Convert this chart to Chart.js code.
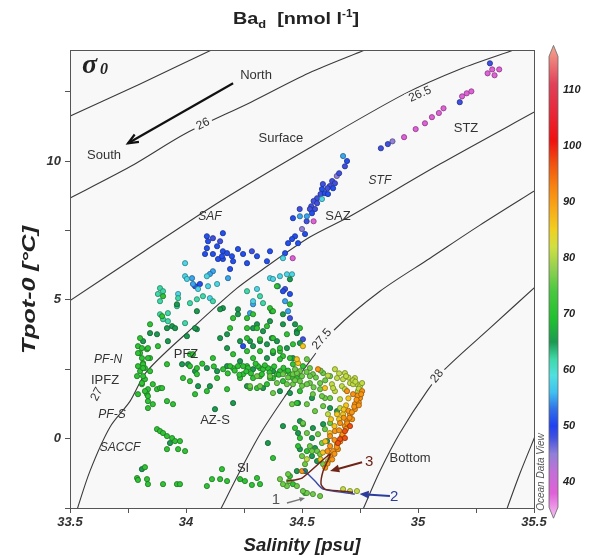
<!DOCTYPE html>
<html>
<head>
<meta charset="utf-8">
<script src="https://cdn.jsdelivr.net/npm/chart.js@4.4.0/dist/chart.umd.min.js"></script>
<style>
  html, body { margin: 0; padding: 0; background: #fff; }
  canvas { display: block; }
</style>
</head>
<body>
<canvas id="ts" width="592" height="558"></canvas>
<script>
// tick labels
const xTicks = [33.5, 34, 34.5, 35, 35.5];
const yTicks = [0, 5, 10];
const barTicks = [40, 50, 60, 70, 80, 90, 100, 110];

// sigma0 isopycnals, [salinity, tpot]
const iso255 = [[33.48,11.54],[33.80,12.77],[34.12,14.04]];
const iso26 = [[33.48,8.58],[33.76,9.80],[34.00,11.00],[34.28,12.12],[34.53,13.17],[34.78,14.03]];
const iso265 = [[33.48,4.86],[33.82,6.75],[34.15,8.56],[34.53,10.46],[34.94,12.41],[35.18,13.31],[35.42,14.02]];
const iso27 = [[33.525,-2.7],[33.586,-1.17],[33.672,0.41],[33.759,1.35],[33.832,2.43],[34.06,4.23],[34.22,5.42],[34.319,6.03],[34.534,7.26],[34.707,8.01],[35.095,9.89],[35.52,11.85]];
const iso275 = [[34.14,-2.7],[34.233,-1.17],[34.319,0.16],[34.427,1.53],[34.534,2.79],[34.642,3.94],[34.836,5.31],[35.052,6.50],[35.267,7.69],[35.52,9.02]];
const iso28 = [[34.755,-2.7],[34.836,-1.17],[34.922,0.20],[35.039,1.71],[35.116,2.50],[35.31,3.98],[35.51,5.50]];
const iso285 = [[35.376,-2.7],[35.44,-1.24],[35.51,0.2]];
const isoLabels = [['26',34.073,11.33,-26],['26.5',35.009,12.41,-24],['27',33.616,1.60,-62],['27.5',34.586,3.58,-50],['28',35.082,2.25,-52]];

// water mass paths drawn on the figure
const path3 = [[34.435,-1.53],[34.50,-1.42],[34.621,-0.56],[34.591,-1.17],[34.582,-1.64],[34.599,-1.82],[34.664,-1.89],[34.72,-1.93]];
const path2 = [[34.504,-1.10],[34.556,-1.53],[34.591,-1.82],[34.728,-2.00]];

// Ba_d samples grouped by value (nmol/l), [salinity, tpot]
const ba38 = [[34.94,10.86],[34.99,11.15],[35.03,11.36],[35.06,11.58],[35.09,11.73],[35.11,11.90],[35.19,12.33],[35.21,12.44],[35.23,12.51],[35.30,13.16],[35.32,13.30],[35.35,13.30],[35.33,13.09],[34.55,7.83],[34.46,6.50]];
const ba45 = [[34.89,10.71],[34.50,7.55],[34.65,9.46]];
const ba48 = [[34.84,10.46],[34.87,10.61],[35.18,12.12],[35.31,13.52],[34.66,9.56],[34.63,9.28],[34.62,9.10],[34.61,9.02],[34.59,9.17],[34.58,8.81],[34.565,8.66],[34.55,8.56],[34.565,8.48],[34.54,8.37],[34.556,8.27],[34.534,8.27],[34.49,8.27],[34.52,7.83],[34.448,4.34],[34.427,5.39],[34.284,6.75],[34.147,7.11],[34.116,7.22],[34.504,3.58],[34.685,9.81],[34.642,9.20]];
const ba51 = [[34.694,10.0],[34.634,9.02],[34.599,8.84],[34.612,8.81],[34.586,8.99],[34.543,8.12],[34.461,7.94],[34.513,7.37],[34.47,7.29],[34.457,7.19],[34.44,7.04],[34.483,7.04],[34.427,6.68],[34.362,6.75],[34.09,7.29],[34.159,7.40],[34.095,7.11],[34.134,6.93],[34.09,6.86],[34.159,6.75],[34.082,6.65],[34.116,6.65],[34.177,6.68],[34.138,6.47],[34.159,6.47],[34.155,6.57],[34.198,6.57],[34.203,6.39],[34.224,6.83],[34.246,6.65],[34.306,6.57],[34.263,6.32],[34.349,6.39],[34.19,6.11],[34.039,5.49],[34.06,5.57],[34.418,5.31],[34.448,5.21],[34.246,3.33]];
const ba55 = [[34.677,10.18],[34.491,8.01],[34.521,8.01],[34.116,6.03],[34.103,5.93],[34.181,5.78],[34.03,5.57],[34.026,5.78],[34.276,4.52],[34.289,4.84],[34.396,5.49],[34.427,4.95],[34.44,4.59]];
const ba58 = [[34.586,8.63],[34.418,6.50],[33.996,6.32],[33.996,5.85],[34.09,5.85],[34.134,5.57],[34.103,5.06],[33.966,5.21],[34.362,5.78],[34.435,5.92],[34.457,5.92],[34.289,4.95],[34.306,5.39],[34.052,5.39],[34.004,5.75],[34.095,5.49],[34.405,5.85],[34.375,5.75]];
const ba62 = [[33.888,5.42],[33.901,5.31],[33.879,5.21],[33.888,4.95],[33.966,5.06],[33.961,4.77],[33.888,4.48],[33.922,4.52],[33.901,4.30],[34.116,4.95],[34.073,5.13],[34.047,5.02],[34.017,4.88],[34.263,5.31],[34.319,5.13],[34.332,4.88],[33.922,4.23],[33.996,4.16]];
const ba65 = [[33.875,3.76],[33.845,3.80],[33.94,4.05],[33.918,3.98],[33.953,3.98],[33.815,3.51],[33.961,4.84],[34.047,3.94],[34.004,3.69],[33.922,3.51],[34.224,4.66],[34.159,4.70],[34.224,4.48],[34.177,3.76],[34.233,3.51],[34.306,4.12],[34.289,3.98],[34.332,3.87],[34.362,4.23],[34.37,3.62],[34.392,3.51],[34.435,3.26],[34.37,4.59],[34.418,4.48],[34.478,3.87],[34.491,3.44],[34.448,5.74],[34.418,4.12],[34.47,4.12],[34.478,3.80],[33.983,2.68],[34.052,1.89],[34.103,1.89],[34.009,2.68],[34.039,2.43],[34.263,1.89],[34.332,1.82],[34.405,1.71],[34.203,1.28],[34.125,1.06],[34.353,-0.16],[34.491,0.63],[34.418,0.45],[34.547,0.38],[34.483,0.20],[34.543,0.02],[34.491,-0.38],[34.543,-0.63],[34.565,-0.81],[34.478,-1.17],[34.513,-1.17],[34.448,1.64],[34.483,1.28],[34.543,1.46],[34.621,1.10],[34.651,0.99],[34.591,0.52],[34.608,-0.09],[34.556,-0.34],[33.81,-1.10],[33.931,-0.16],[34.09,2.54],[34.134,2.43],[34.177,2.61],[34.289,2.50],[34.375,2.43],[34.276,3.51],[34.319,3.51],[34.349,3.40],[34.147,3.62],[34.177,3.26],[34.289,3.33],[34.375,3.08],[34.233,2.79],[34.349,2.90],[34.461,2.90],[34.047,4.59],[34.039,3.98],[34.147,4.66]];
const ba71 = [[33.802,2.43],[33.789,2.25],[33.823,2.14],[33.81,1.96],[33.836,1.78],[33.793,1.60],[33.832,1.60],[33.875,1.78],[33.888,1.82],[33.836,1.35],[33.857,1.24],[33.836,1.10],[33.918,1.35],[33.944,1.24],[33.823,2.54],[33.815,2.72],[33.793,2.61],[33.815,2.25],[33.845,2.43],[33.81,2.00],[33.857,1.96],[33.897,1.82],[33.823,1.71],[33.836,1.53],[33.802,3.08],[33.832,3.22],[33.845,2.90],[33.815,2.68],[33.793,3.33],[33.802,3.62],[33.81,3.26],[33.836,3.26],[33.793,3.08],[33.81,2.90],[33.815,2.54],[33.836,2.90],[33.879,3.33],[33.845,4.12],[33.897,4.41],[33.901,5.13],
  [33.875,0.34],[33.888,0.27],[33.901,0.20],[33.918,0.09],[33.94,0.02],[33.953,-0.09],[33.974,-0.09],[33.918,-0.38],[33.966,-0.38],[33.996,-0.45],
  [33.823,-1.03],[33.789,-1.42],[33.793,-1.49],[33.832,-1.46],[33.836,-1.64],[33.901,-1.64],[33.961,-1.64],[33.974,-1.64],[34.09,-1.71],[34.112,-1.46],[34.147,-1.46],[34.155,-1.10],[34.177,-1.53],[34.233,-1.46],[34.254,-1.53],[34.284,-1.67],[34.306,-1.42],[34.319,-1.64],[34.448,-1.35],[34.461,-1.64],[34.513,-1.96],
  [34.017,2.61],[34.047,2.32],[34.203,2.54],[34.263,2.61],[34.319,2.54],[34.362,2.50],[34.405,2.43],[34.461,2.68],[34.504,2.61],[33.987,2.18],[34.134,2.18],[34.233,2.18],[34.319,2.25],[34.375,2.18],[34.461,2.18],[34.039,1.60],[34.09,1.71],[34.276,1.82],[34.306,1.82],[34.349,1.96],[34.491,1.71],[34.478,1.28],[34.504,0.52],[34.47,0.38],[34.491,0.02],[34.521,-0.45],[34.483,-0.27],[34.375,-0.70],[34.19,2.61],[34.224,2.61],[34.246,2.61],[34.267,2.54],[34.31,2.61],[34.332,2.50],[34.353,2.54],[34.427,2.43],[34.246,2.32],[34.289,2.18],[34.327,2.32],[34.362,2.18],[34.392,2.32],[34.418,2.07],[34.448,2.32],[34.478,2.18],[34.017,2.07],[34.177,1.78],[34.418,2.97],[34.448,2.90],[34.405,3.15],[34.375,3.15],[34.203,3.04],[34.263,3.15],[34.319,3.15],[34.405,3.26],[34.289,2.90],[34.405,2.86],[34.116,2.90],[34.047,2.54],[33.918,2.68],[34.017,3.04],[34.03,3.04],[34.263,3.62],[34.319,3.58],[34.375,3.62],[34.435,3.76],[34.491,3.98],[34.461,3.40],[34.263,4.34],[34.289,4.48],[34.19,3.98],[34.263,3.98],[34.306,3.98],[34.349,4.05],[34.362,4.70],[34.375,4.59],[34.448,4.84],[34.203,4.34],[34.392,5.49],
  [34.16,2.50],[34.21,2.45],[34.26,2.42],[34.30,2.70],[34.34,2.64],[34.38,2.60],[34.42,2.55],[34.44,2.45],[34.40,2.30],[34.36,2.38],[34.28,2.35],[34.23,2.30],[34.18,2.35],[34.12,2.60],[34.07,2.70]];
const ba76 = [[34.521,2.86],[34.534,2.54],[34.491,2.43],[34.461,2.32],[34.547,2.32],[34.591,2.36],[34.621,2.25],[34.491,2.07],[34.534,2.00],[34.578,2.00],[34.461,1.96],[34.547,1.60],[34.599,1.46],[34.578,1.78],[34.306,2.25],[34.362,2.25],[34.418,2.32],[34.478,2.36],[34.534,2.25],[34.276,1.89],[34.319,1.89],[34.392,2.00],[34.435,1.96],[34.521,1.96],[34.375,1.64],[34.457,1.24],[34.521,1.24],[34.591,1.17],[34.556,0.99],[34.504,0.56],[34.621,0.56],[34.599,0.34],[34.569,0.16],[34.521,0.20],[34.534,-0.27],[34.586,-0.16],[34.565,-0.45],[34.578,-0.56],[34.543,-0.45],[34.50,-0.63],[34.513,-0.92],[34.591,-0.92],[34.44,-1.28],[34.444,-1.53],[34.478,-1.71],[34.435,-1.71],[34.521,-1.96],[34.547,-2.00],[34.578,-2.07],[34.504,-1.89],[34.621,1.46],[34.586,1.53],[34.405,-1.46],[34.418,-1.64],
  [34.47,2.50],[34.50,2.25],[34.52,2.40],[34.56,2.20],[34.58,2.45],[34.60,2.10],[34.55,1.85],[34.50,1.90],[34.47,2.10],[34.44,2.20]];
const ba81 = [[34.629,1.96],[34.672,1.89],[34.642,1.71],[34.651,2.18],[34.677,2.14],[34.707,2.00],[34.737,1.96],[34.72,1.96],[34.741,1.71],[34.685,1.78],[34.634,1.82],[34.664,1.42],[34.737,1.35],[34.664,1.10],[34.612,0.88],[34.677,-1.82],[34.707,-1.89],[34.737,-1.89],[34.521,-0.74],[34.612,-0.81],[34.75,1.89],[34.612,2.27],[34.70,2.20],[34.642,2.50],[34.685,2.36],[34.728,2.18],[34.759,2.00],
  [34.66,2.35],[34.72,2.10],[34.745,1.80],[34.73,2.05],[34.69,2.25]];
const ba86 = [[34.504,3.33],[34.483,2.72],[34.478,2.86],[34.651,0.88],[34.677,0.88],[34.599,1.82],[34.625,0.70],[34.69,1.20],
  [34.70,1.45],[34.68,1.05],[34.66,0.70],[34.64,0.45],[34.62,0.20],[34.60,-0.10],[34.59,-0.50],[34.58,-0.75]];
const ba91 = [[34.569,2.50],[34.759,1.71],[34.694,1.71],[34.72,1.60],[34.75,1.46],[34.728,1.06],[34.707,0.88],[34.664,0.56],[34.694,0.63],[34.642,0.27],[34.621,0.09],[34.651,-0.20],[34.621,-0.27],[34.621,-0.63],[34.634,-0.45],[34.50,-1.17],[34.728,1.24],[34.716,0.70],[34.685,0.45],[34.672,0.09],[34.655,-0.38],[34.745,1.30],[34.74,1.55],[34.70,1.00],[34.68,0.75],[34.66,0.30],[34.64,-0.05],[34.61,-0.45],
  [34.735,1.40],[34.725,1.15],[34.715,0.95],[34.705,0.75],[34.695,0.55],[34.69,0.35],[34.675,0.15],[34.665,-0.10],[34.65,-0.30],[34.64,-0.55],[34.63,-0.75],[34.61,-0.90],[34.60,-1.05],[34.755,1.60],[34.745,1.20]];
const ba97 = [[34.685,0.27],[34.664,-0.02],[34.655,-0.16],[34.685,0.02],[34.707,0.45]];

const baGroups = [[38, ba38], [45, ba45], [48, ba48], [51, ba51], [55, ba55], [58, ba58], [62, ba62],
  [65, ba65], [71, ba71], [76, ba76], [81, ba81], [86, ba86], [91, ba91], [97, ba97]];

// text placed on the diagram, [text, salinity, tpot, italic]
const zoneLabels = [['North',34.302,13.09,0],['South',33.647,10.21,0],['Surface',34.409,10.82,0],['STZ',35.207,11.18,0],
  ['STF',34.836,9.28,1],['SAF',34.103,8.01,1],['SAZ',34.655,8.01,0],['PFZ',34.0,3.04,0],['PF-N',33.664,2.86,1],
  ['IPFZ',33.651,2.11,0],['PF-S',33.681,0.88,1],['SACCF',33.716,-0.34,1],['AZ-S',34.125,0.67,0],['SI',34.246,-1.06,0],
  ['Bottom',34.966,-0.70,0]];

const FONT = "'Liberation Sans', Arial, sans-serif";
const PLOT_BG = '#f8f8f8';

// Ocean Data View style palette
const cmap = [[34,'#f4b8f0'],[38,'#e060d8'],[42,'#c070d8'],[45,'#9080d8'],[48,'#4050e0'],[50,'#2040f0'],[53,'#3070e8'],
  [56,'#40c0f0'],[59,'#50e0e0'],[62,'#40d8a8'],[65,'#1c9a50'],[69,'#20c030'],[74,'#48c840'],[78,'#90d050'],
  [82,'#d0e040'],[85,'#f0d020'],[89,'#f8a818'],[93,'#f88010'],[97,'#f05010'],[101,'#f01010'],[106,'#e82838'],
  [111,'#e04058'],[118,'#f4a890']];

function hex2rgb(h) { return [1, 3, 5].map(i => parseInt(h.substr(i, 2), 16)); }
function baColor(v, k = 1) {
  let i = 0;
  while (i < cmap.length - 2 && v > cmap[i + 1][0]) i++;
  const [v0, c0] = cmap[i], [v1, c1] = cmap[i + 1];
  const t = Math.max(0, Math.min(1, (v - v0) / (v1 - v0)));
  const a = hex2rgb(c0), b = hex2rgb(c1);
  const c = a.map((x, j) => Math.round((x + (b[j] - x) * t) * k));
  return `rgb(${c[0]},${c[1]},${c[2]})`;
}

const toXY = arr => arr.map(p => ({ x: p[0], y: p[1] }));

const lineSet = (arr, color, width, order) => ({
  data: toXY(arr), showLine: true, pointRadius: 0, borderColor: color,
  borderWidth: width, tension: 0.3, order: order
});

const datasets = [
  lineSet(iso255, '#3a3a3a', 1.1, 10),
  lineSet(iso26, '#3a3a3a', 1.1, 10),
  lineSet(iso265, '#3a3a3a', 1.1, 10),
  lineSet(iso27, '#3a3a3a', 1.1, 10),
  lineSet(iso275, '#3a3a3a', 1.1, 10),
  lineSet(iso28, '#3a3a3a', 1.1, 10),
  lineSet(iso285, '#3a3a3a', 1.1, 10),
];
baGroups.forEach(([v, pts]) => {
  datasets.push({
    data: toXY(pts),
    backgroundColor: baColor(v),
    borderColor: baColor(v, 0.6),
    borderWidth: 0.8,
    pointRadius: 2.6,
    order: -v
  });
});
datasets.push({ ...lineSet(path2, '#3a4aa8', 1.4, -200), tension: 0.2 });
datasets.push({ ...lineSet(path3, '#6e2418', 1.5, -201), tension: 0.2 });

function fitText(ctx, s, cx, cy, target, font, rot) {
  ctx.save();
  ctx.font = font;
  const w = ctx.measureText(s).width;
  ctx.translate(cx, cy);
  if (rot) ctx.rotate(rot);
  ctx.scale(target / w, 1);
  ctx.textAlign = 'center';
  ctx.textBaseline = 'middle';
  ctx.fillText(s, 0, 0);
  ctx.restore();
}

function arrow(ctx, x0, y0, x1, y1, color, width, head, open) {
  const a = Math.atan2(y1 - y0, x1 - x0);
  ctx.save();
  ctx.strokeStyle = color; ctx.fillStyle = color; ctx.lineWidth = width;
  ctx.beginPath(); ctx.moveTo(x0, y0);
  ctx.lineTo(x1 - (open ? 0 : head * 0.7) * Math.cos(a), y1 - (open ? 0 : head * 0.7) * Math.sin(a));
  ctx.stroke();
  ctx.beginPath();
  ctx.moveTo(x1 - head * Math.cos(a - 0.4), y1 - head * Math.sin(a - 0.4));
  ctx.lineTo(x1, y1);
  ctx.lineTo(x1 - head * Math.cos(a + 0.4), y1 - head * Math.sin(a + 0.4));
  if (open) ctx.stroke(); else { ctx.closePath(); ctx.fill(); }
  ctx.restore();
}

const decorPlugin = {
  id: 'decor',
  beforeDraw(chart) {
    const { ctx, chartArea: a } = chart;
    ctx.save();
    ctx.fillStyle = '#fff';
    ctx.fillRect(0, 0, chart.width, chart.height);
    ctx.fillStyle = PLOT_BG;
    ctx.fillRect(a.left, a.top, a.right - a.left, a.bottom - a.top);
    ctx.restore();
  },
  afterDatasetDraw(chart, args) {
    if (args.index !== 0) return;
    const { ctx, scales: { x, y } } = chart;
    isoLabels.forEach(([t, s, tp, ang]) => {
      ctx.save();
      ctx.translate(x.getPixelForValue(s), y.getPixelForValue(tp));
      ctx.rotate(ang * Math.PI / 180);
      ctx.font = '12px ' + FONT;
      const w = ctx.measureText(t).width;
      ctx.fillStyle = PLOT_BG;
      ctx.fillRect(-w / 2 - 3, -6, w + 6, 12);
      ctx.fillStyle = '#333';
      ctx.textAlign = 'center';
      ctx.textBaseline = 'middle';
      ctx.fillText(t, 0, 0);
      ctx.restore();
    });
  },
  afterDraw(chart) {
    const { ctx, chartArea: a, scales: { x, y } } = chart;
    const px = v => x.getPixelForValue(v), py = v => y.getPixelForValue(v);
    ctx.save();
    // frame
    ctx.strokeStyle = '#555'; ctx.lineWidth = 1;
    ctx.strokeRect(a.left + 0.5, a.top + 0.5, a.right - a.left, a.bottom - a.top);

    // zone labels
    ctx.fillStyle = '#333';
    ctx.textAlign = 'center'; ctx.textBaseline = 'middle';
    zoneLabels.forEach(([t, s, tp, it]) => {
      ctx.font = (it ? 'italic 12px ' : '13px ') + FONT;
      ctx.fillText(t, px(s), py(tp));
    });

    // sigma0
    ctx.fillStyle = '#222';
    ctx.textAlign = 'left'; ctx.textBaseline = 'alphabetic';
    ctx.font = "bold italic 28px 'Liberation Serif', serif";
    ctx.fillText('\u03c3', 82, 73);
    ctx.font = "bold italic 16px 'Liberation Serif', serif";
    ctx.fillText('0', 100, 74);

    // arrows
    arrow(ctx, px(34.203), py(12.80), px(33.75), py(10.64), '#111', 2.2, 11, true);
    arrow(ctx, px(34.435), py(-2.32), px(34.513), py(-2.14), '#777', 1.4, 6, false);
    arrow(ctx, px(34.879), py(-2.07), px(34.748), py(-2.00), '#2c3c9c', 2, 10, false);
    arrow(ctx, px(34.759), py(-0.85), px(34.621), py(-1.17), '#6e2418', 2, 10, false);

    ctx.textAlign = 'center'; ctx.textBaseline = 'middle';
    ctx.font = '15px ' + FONT;
    ctx.fillStyle = '#555'; ctx.fillText('1', px(34.388), py(-2.22));
    ctx.fillStyle = '#2c3c9c'; ctx.fillText('2', px(34.897), py(-2.11));
    ctx.fillStyle = '#6e2418'; ctx.fillText('3', px(34.789), py(-0.85));

    // axis titles
    ctx.fillStyle = '#222';
    fitText(ctx, 'Tpot-0 [\u00b0C]', 30, 290, 128, 'bold italic 18px ' + FONT, -Math.PI / 2);
    fitText(ctx, 'Salinity [psu]', 302, 546, 117, 'bold italic 18px ' + FONT, 0);

    // main title with subscript / superscript
    const parts = [['Ba', 17, 0], ['d', 11, 4], ['  [nmol l', 17, 0], ['-1', 10, -7], [']', 17, 0]];
    let tw = 0;
    parts.forEach(p => { ctx.font = 'bold ' + p[1] + 'px ' + FONT; tw += ctx.measureText(p[0]).width; });
    ctx.save();
    ctx.translate(233, 24);
    ctx.scale(126 / tw, 1);
    ctx.textAlign = 'left'; ctx.textBaseline = 'alphabetic';
    let cx = 0;
    parts.forEach(p => {
      ctx.font = 'bold ' + p[1] + 'px ' + FONT;
      ctx.fillText(p[0], cx, p[2]);
      cx += ctx.measureText(p[0]).width;
    });
    ctx.restore();

    // Ocean Data View tag
    ctx.save();
    ctx.translate(541, 472);
    ctx.rotate(-Math.PI / 2);
    ctx.font = 'italic 10px ' + FONT;
    ctx.fillStyle = '#555';
    ctx.fillText('Ocean Data View', 0, 0);
    ctx.restore();

    // colour bar
    const by = v => 482 - (v - 40) * 5.6;
    const bx0 = 549, bx1 = 558, vTop = 116, vBot = 35.5;
    const g = ctx.createLinearGradient(0, by(34), 0, by(118));
    cmap.forEach(([v, c]) => g.addColorStop((v - 34) / (118 - 34), c));
    ctx.fillStyle = g;
    ctx.beginPath();
    ctx.moveTo(bx0, by(vTop));
    ctx.lineTo((bx0 + bx1) / 2, by(vTop) - 11);
    ctx.lineTo(bx1, by(vTop));
    ctx.lineTo(bx1, by(vBot));
    ctx.lineTo((bx0 + bx1) / 2, by(vBot) + 11);
    ctx.lineTo(bx0, by(vBot));
    ctx.closePath();
    ctx.fill();
    ctx.strokeStyle = '#666'; ctx.lineWidth = 0.8;
    ctx.stroke();
    ctx.fillStyle = '#222';
    ctx.font = 'bold italic 11px ' + FONT;
    ctx.textAlign = 'left';
    barTicks.forEach(v => ctx.fillText(String(v), 563, by(v)));
    ctx.restore();
  }
};

const tickFont = { family: FONT, size: 13, weight: 'bold', style: 'italic' };

new Chart(document.getElementById('ts'), {
  type: 'scatter',
  data: { datasets: datasets },
  options: {
    responsive: false,
    animation: false,
    devicePixelRatio: 1,
    layout: { autoPadding: false, padding: { left: 0, top: 50, right: 58, bottom: 0 } },
    plugins: { legend: { display: false }, tooltip: { enabled: false } },
    scales: {
      x: {
        type: 'linear', min: 33.5, max: 35.5,
        afterBuildTicks: s => {
          s.ticks = [];
          for (let v = 33.5; v <= 35.501; v += 0.25) s.ticks.push({ value: +v.toFixed(2) });
        },
        afterFit: s => { s.height = 50; },
        grid: { drawOnChartArea: false, drawTicks: true, tickLength: 5, color: '#555' },
        border: { display: true, color: '#555' },
        ticks: {
          font: tickFont, color: '#333', padding: 2, maxRotation: 0, autoSkip: false,
          callback: v => xTicks.includes(v) ? String(v) : ''
        }
      },
      y: {
        type: 'linear', min: -2.5, max: 14,
        afterBuildTicks: s => {
          s.ticks = [];
          for (let v = -2.5; v <= 12.5; v += 2.5) s.ticks.push({ value: v });
        },
        afterFit: s => { s.width = 70; },
        grid: { drawOnChartArea: false, drawTicks: true, tickLength: 5, color: '#555' },
        border: { display: true, color: '#555' },
        ticks: {
          font: tickFont, color: '#333', padding: 4, autoSkip: false,
          callback: v => yTicks.includes(v) ? String(v) : ''
        }
      }
    }
  },
  plugins: [decorPlugin]
});
</script>
</body>
</html>
